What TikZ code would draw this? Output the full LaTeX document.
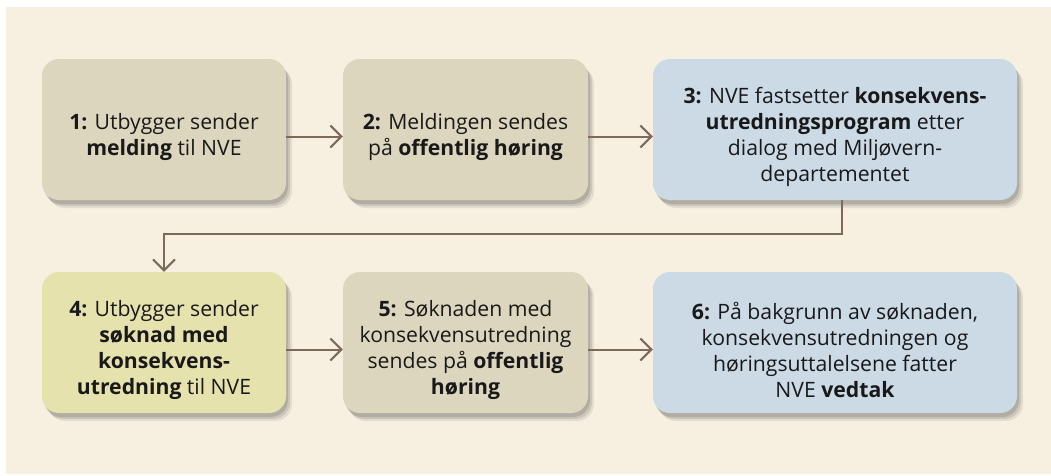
\documentclass[tikz,border=0pt]{standalone}
\usepackage{fontspec}
\setmainfont{Open Sans}
\usetikzlibrary{arrows.meta,shadows}
\definecolor{PanelClr}{RGB}{247,240,225}
\definecolor{SandClr}{RGB}{221,214,191}
\definecolor{BlueClr}{RGB}{204,218,230}
\definecolor{YellowClr}{RGB}{230,226,174}
\definecolor{FlowClr}{RGB}{126,106,88}
\newcommand{\steplift}{\rule{0pt}{32pt}}

\tikzset{
  stepbox/.style={rounded corners=17pt,inner sep=0pt,align=center,
    font=\fontsize{21.2}{26}\selectfont,text=black!90,
    drop shadow={shadow xshift=6pt,shadow yshift=-8pt,opacity=.08,fill=black},
    drop shadow={shadow xshift=4pt,shadow yshift=-6pt,opacity=.10,fill=black},
    drop shadow={shadow xshift=2pt,shadow yshift=-4pt,opacity=.12,fill=black}},
  flow/.style={draw=FlowClr,line width=2pt,
    -{Straight Barb[length=11pt,width=22pt,line width=2pt]}}
}

\begin{document}
\begin{tikzpicture}[x=1pt,y=-1pt]
\useasboundingbox (0,0) rectangle (1051,475);
\fill[white] (0,0) rectangle (1051,475);
\fill[PanelClr] (6,7) rectangle (1051,474);

% Top row.
\node[stepbox,fill=SandClr,minimum width=244pt,minimum height=141pt] (b1) at (164,129.5)
  {\steplift\textbf{1:} Utbygger sender\\ \textbf{melding} til NVE};
\node[stepbox,fill=SandClr,minimum width=245pt,minimum height=141pt] (b2) at (465.5,129.5)
  {\steplift\textbf{2:} Meldingen sendes\\ på \textbf{offentlig høring}};
\node[stepbox,fill=BlueClr,minimum width=364pt,minimum height=141pt] (b3) at (835,129.5)
  {\steplift\textbf{3:} NVE fastsetter \textbf{konsekvens-}\\ \textbf{utredningsprogram} etter\\
   dialog med Miljøvern-\\ departementet};

% Bottom row.
\node[stepbox,fill=YellowClr,minimum width=244pt,minimum height=141pt] (b4) at (164,342.5)
  {\steplift\textbf{4:} Utbygger sender\\ \textbf{søknad med}\\ \textbf{konsekvens-}\\ \textbf{utredning} til NVE};
\node[stepbox,fill=SandClr,minimum width=245pt,minimum height=141pt] (b5) at (465.5,342.5)
  {\steplift\textbf{5:} Søknaden med\\ konsekvensutredning\\ sendes på \textbf{offentlig}\\ \textbf{høring}};
\node[stepbox,fill=BlueClr,minimum width=364pt,minimum height=141pt] (b6) at (835,342.5)
  {\steplift\textbf{6:} På bakgrunn av søknaden,\\ konsekvensutredningen og\\
   høringsuttalelsene fatter\\ NVE \textbf{vedtak}};

% Connectors.
\draw[flow] ([yshift=-7pt]b1.east) -- ([yshift=-7pt]b2.west);
\draw[flow] ([yshift=-7pt]b2.east) -- ([yshift=-7pt]b3.west);
\draw[flow] ([xshift=7pt]b3.south) -- ++(0,34) -| (b4.north);
\draw[flow] ([yshift=-7pt]b4.east) -- ([yshift=-7pt]b5.west);
\draw[flow] ([yshift=-7pt]b5.east) -- ([yshift=-7pt]b6.west);

\end{tikzpicture}
\end{document}
